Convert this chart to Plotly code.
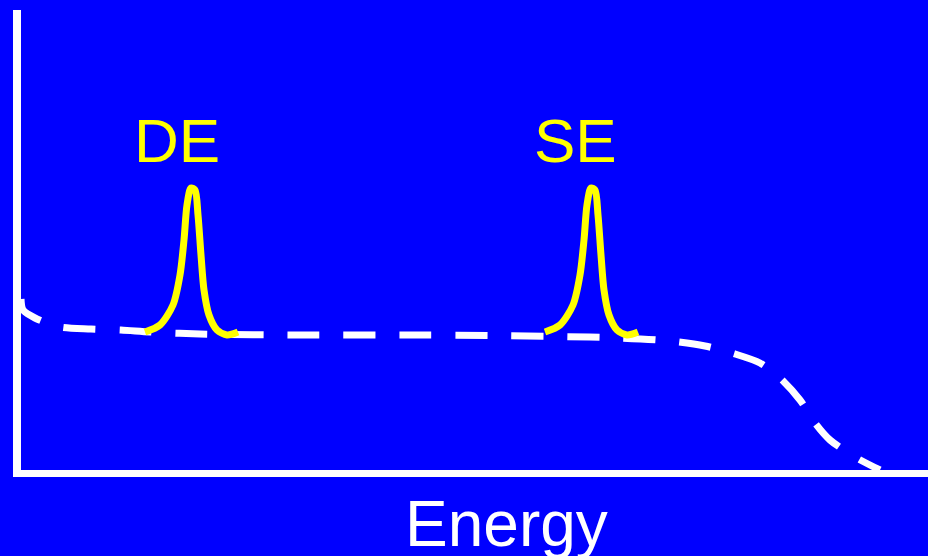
import plotly.graph_objects as go

# Continuum (Compton-like background), arbitrary energy / count units
cont_x = [0, 2, 14, 39, 70, 100, 129, 179, 279, 379, 479, 539, 599, 649, 684, 714, 739, 759, 779, 794, 809, 834, 859]
cont_y = [171, 160, 152, 143, 141, 140, 138, 136, 135, 135, 134.5, 133.5, 132, 129, 124, 116, 107, 92, 70, 47, 30, 13, 0]

# Double-escape peak
de_x = [124, 139, 152, 159, 163, 166, 170, 174, 177, 180, 183, 188, 196, 206, 217]
de_y = [138, 145, 165, 195, 230, 265, 282, 280, 255, 215, 180, 155, 140, 135, 138]

# Single-escape peak
se_x = [524, 539, 552, 559, 563, 566, 570, 574, 577, 580, 583, 588, 596, 606, 617]
se_y = [138, 145, 165, 195, 230, 265, 282, 280, 255, 215, 180, 155, 140, 135, 138]

labels = ["DE", "SE"]
label_x = [156, 554]
label_y = [330, 330]
axis_title = "Energy"

fig = go.Figure()
fig.add_trace(go.Scatter(x=cont_x, y=cont_y, mode="lines",
                         line=dict(color="white", width=7, dash="32px,24px", shape="spline", smoothing=0.8),
                         hoverinfo="skip", showlegend=False))
for px, py in [(de_x, de_y), (se_x, se_y)]:
    fig.add_trace(go.Scatter(x=px, y=py, mode="lines",
                             line=dict(color="#FFFF00", width=7, shape="spline", smoothing=0.8),
                             hoverinfo="skip", showlegend=False))

for t, lx, ly in zip(labels, label_x, label_y):
    fig.add_annotation(x=lx, y=ly, text=t, showarrow=False, xanchor="center", yanchor="middle",
                       font=dict(family="Liberation Sans, Arial, sans-serif", size=62, color="#FFFF00"))

fig.add_annotation(x=485, xref="x", y=-0.118, yref="paper", text=axis_title, showarrow=False,
                   xanchor="center", yanchor="middle",
                   font=dict(family="Liberation Sans, Arial, sans-serif", size=64, color="white"))

fig.update_layout(
    width=928, height=556,
    margin=dict(l=21, r=0, t=10, b=86),
    paper_bgcolor="#0000FF", plot_bgcolor="#0000FF",
    showlegend=False,
    xaxis=dict(range=[0, 907], showgrid=False, zeroline=False, showticklabels=False, ticks="",
               showline=True, linecolor="white", linewidth=7, fixedrange=True),
    yaxis=dict(range=[0, 460], showgrid=False, zeroline=False, showticklabels=False, ticks="",
               showline=True, linecolor="white", linewidth=8, fixedrange=True),
)

fig.write_html("out.html", config={"displayModeBar": False},
               post_script="document.body.style.margin='0';document.body.style.overflow='hidden';")
